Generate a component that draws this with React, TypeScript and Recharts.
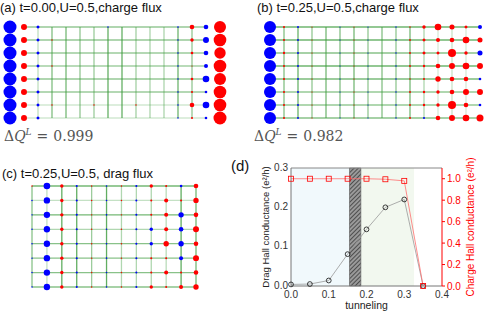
import React from 'react';
import {
  ScatterChart, Scatter, XAxis, YAxis, ZAxis, ReferenceLine, ReferenceArea,
  ComposedChart, Line,
} from 'recharts';

// ---------- Panel (a): t=0.00, U=0.5, charge flux (sign: + red, - blue) ----------
const A_ROWS: number[][] = [
  [-1, 0.21, -0.053, 0, 0, 0, 0, -0.012, 0, 0, 0, 0, -0.015, 0.125, -0.125, 0.85],
  [-1, 0.21, -0.053, 0.012, 0, 0, 0, 0, 0, 0, 0, 0, -0.012, 0.068, -0.21, 0.94],
  [-1, 0.21, -0.053, 0, 0, 0, 0, 0, 0, 0, 0, 0, -0.012, 0.04, -0.125, 0.77],
  [-1, 0.21, -0.053, 0.012, 0, 0, 0, 0, 0, 0, 0, 0, -0.012, 0.006, -0.095, 0.94],
  [-1, 0.21, -0.053, 0, 0, 0, 0, 0, 0, 0, 0, 0, -0.012, 0.04, -0.26, 0.85],
  [-1, 0.21, -0.053, 0, 0, 0, 0, 0, 0, 0, 0, 0, -0.012, 0.024, -0.04, 0.94],
  [-1, 0.21, -0.053, 0.012, 0, 0, 0.012, 0, 0, 0.012, 0, 0, -0.012, 0.125, -0.26, 0.94],
  [-1, 0.21, -0.053, 0, 0, 0, 0, 0, 0, 0, 0, 0, -0.012, 0.024, -0.04, 1],
];
const A_H_BONDS = [0.8, 0.8, 0.75, 0.7, 0.8, 0.75, 0.35, 0.35];
const A_V_COLS = [2, 3, 4, 5, 6, 7, 8, 9, 10, 11, 12, 13];
const A_V_BONDS = [0.35, 0.7, 0.75, 0.6, 0.55, 0.85, 0.85, 0.5, 0.45, 0.45, 0.8, 0.6];

// ---------- Panel (b): t=0.25, U=0.5, charge flux ----------
const B_ROWS: number[][] = [
  [-0.85, 0.024, -0.02, 0.008, 0, -0.008, 0.008, -0.008, 0, -0.01, 0.012, 0.068, 0.26, 0.15, 0.053, -0.095],
  [-0.85, 0.024, -0.02, 0.008, 0, -0.008, 0.008, -0.008, 0, -0.01, 0.02, 0.053, 0.095, 0.125, 0.26, 0.15],
  [-0.85, 0.03, -0.02, 0.008, 0, -0.008, 0.008, -0.008, 0, -0.01, 0.02, 0.053, 0.053, 0.38, 0.068, -0.15],
  [-0.85, 0.024, -0.02, 0.008, 0, -0.008, 0.008, -0.008, 0, -0.01, 0.02, 0.034, 0.125, 0.21, 0.26, 0.21],
  [-0.85, 0.024, -0.02, 0.008, 0, -0.008, 0.008, -0.008, 0, -0.01, 0.012, 0.024, 0.17, 0.125, 0.125, -0.04],
  [-0.85, 0.024, -0.02, 0.008, 0, -0.008, 0.008, -0.008, 0, -0.01, 0.02, 0.034, 0.068, 0.125, 0.21, 0.21],
  [-0.85, 0.024, -0.02, 0.008, 0, -0.008, 0.008, -0.008, 0, -0.01, 0.02, 0.034, 0.068, 0.38, 0.125, -0.04],
  [-0.85, 0.024, -0.02, 0.008, 0, -0.008, 0.008, -0.008, 0, -0.01, 0.02, -0.024, 0.125, 0.21, 0.26, 0.29],
];
const B_H_BONDS = [0.55, 0.55, 0.45, 0.55, 0.5, 0.4, 0.4, 0.45];
const B_V_COLS = [1, 2, 3, 4, 5, 6, 7, 8, 9, 10, 11, 12, 13, 14];
const B_V_BONDS = [0.45, 0.55, 0.4, 0.5, 0.45, 0.5, 0.4, 0.45, 0.4, 0.5, 0.3, 0.15, 0.2, 0.15];

// ---------- Panel (c): t=0.25, U=0.5, drag flux ----------
const C_ROWS: number[][] = [
  [0.012, -0.26, 0.068, -0.024, 0.012, -0.015, 0.012, -0.024, 0.068, 0.024, -0.04, 0.125],
  [-0.012, -0.24, 0.068, -0.024, 0.012, -0.015, 0.012, -0.024, 0.024, 0.095, 0.024, 0.17],
  [-0.012, -0.24, 0.068, -0.024, 0.012, -0.015, 0.012, -0.024, 0.024, 0.095, -0.17, 0.125],
  [-0.012, -0.24, 0.068, -0.024, 0.012, -0.015, 0.012, -0.024, -0.068, 0.095, -0.125, 0.21],
  [-0.012, -0.24, 0.068, -0.024, 0.012, -0.015, 0.012, -0.024, -0.068, 0.17, -0.17, 0.125],
  [-0.012, -0.24, 0.068, -0.024, 0.012, -0.015, 0.012, -0.024, 0.024, 0.024, -0.095, 0.21],
  [-0.012, -0.24, 0.068, -0.024, 0.012, -0.015, 0.012, -0.024, 0.024, 0.095, 0.024, 0.125],
  [-0.012, -0.24, 0.068, -0.024, 0.012, -0.015, 0.012, -0.024, 0.068, 0.024, 0.095, 0.17],
];
const C_H_BONDS = [0.7, 0.3, 0.7, 0.4, 0.6, 0.6, 0.6, 0.6];
const C_V_COLS = [0, 1, 2, 3, 4, 5, 6, 7, 8, 9, 10, 11];
const C_V_BONDS = [0.6, 0.3, 0.8, 0.8, 0.5, 0.8, 0.4, 0.4, 0.4, 0.35, 0.8, 0.7];

// ---------- Panel (d) ----------
const TUNNELING = [0, 0.05, 0.1, 0.15, 0.2, 0.25, 0.3, 0.35];
const DRAG_HALL = [0.004, 0.005, 0.014, 0.081, 0.144, 0.2, 0.22, 0.0];
const CHARGE_HALL = [1.0, 1.0, 1.0, 1.0, 1.0, 0.995, 0.98, 0.0];
const X_TICKS = [0, 0.1, 0.2, 0.3, 0.4];
const LEFT_TICKS = [0, 0.1, 0.2, 0.3];
const RIGHT_TICKS = [0, 0.2, 0.4, 0.6, 0.8, 1.0];
const PHASE_A = [0, 0.155];
const PHASE_MIXED = [0.155, 0.185];
const PHASE_B = [0.185, 0.326];

const GREEN = '#3a9a3a';
const RED = '#ff0000';
const BLUE = '#0000ff';

function toPoints(rows: number[][], sign: number) {
  const pts: { x: number; y: number; m: number }[] = [];
  rows.forEach((row, r) =>
    row.forEach((v, c) => {
      if (v * sign > 0) pts.push({ x: c, y: r, m: Math.abs(v) });
    })
  );
  return pts;
}

function Lattice(props: any) {
  const { rows, left, top, width, height, margin, hBonds, hFrom, hTo, vCols, vBonds, lineWidth } = props;
  const nCols = rows[0].length;
  const red = toPoints(rows, 1);
  const blue = toPoints(rows, -1);
  return (
    <div style={{ position: 'absolute', left, top }}>
      <ScatterChart width={width} height={height} margin={margin}>
        <XAxis type="number" dataKey="x" domain={[0, nCols - 1]} hide />
        <YAxis type="number" dataKey="y" domain={[0, rows.length - 1]} reversed hide />
        <ZAxis type="number" dataKey="m" domain={[0, 1]} range={[0, 133]} />
        {vCols.map((c: number, i: number) => (
          <ReferenceLine key={'v' + i} x={c} stroke={GREEN} strokeOpacity={vBonds[i]} strokeWidth={lineWidth} />
        ))}
        {hBonds.map((o: number, r: number) => (
          <ReferenceLine
            key={'h' + r}
            segment={[{ x: hFrom, y: r }, { x: hTo, y: r }]}
            stroke={GREEN}
            strokeOpacity={o}
            strokeWidth={lineWidth}
          />
        ))}
        <Scatter data={blue} fill={BLUE} isAnimationActive={false} />
        <Scatter data={red} fill={RED} isAnimationActive={false} />
      </ScatterChart>
    </div>
  );
}

const SquareDot = (props: any) => {
  const { cx, cy, index } = props;
  return (
    <rect key={'sq' + index} x={cx - 2.5} y={cy - 2.5} width={5} height={5} fill="none" stroke={RED} strokeWidth={0.8} />
  );
};
const CircleDot = (props: any) => {
  const { cx, cy, index } = props;
  return <circle key={'c' + index} cx={cx} cy={cy} r={2.4} fill="none" stroke="#111" strokeWidth={0.8} />;
};

const fmt1 = (v: number) => v.toFixed(1);

function PanelD() {
  const data = TUNNELING.map((t, i) => ({ t, drag: DRAG_HALL[i], charge: CHARGE_HALL[i] }));
  return (
    <div style={{ position: 'absolute', left: 240, top: 150 }}>
      <ComposedChart width={245} height={165} data={data} margin={{ top: 18, right: 3, left: 15, bottom: 0 }}>
        <XAxis
          type="number"
          dataKey="t"
          domain={[0, 0.4]}
          ticks={X_TICKS}
          tickFormatter={fmt1}
          height={29}
          stroke="#777"
          tickSize={0}
          tickMargin={5}
          tick={{ fontSize: 10, fill: '#333' }}
          label={{ value: 'tunneling', position: 'insideBottom', offset: 6, style: { fontSize: 10.5, fill: '#222' } }}
        />
        <YAxis
          yAxisId="left"
          type="number"
          domain={[0, 0.3]}
          ticks={LEFT_TICKS}
          tickFormatter={fmt1}
          width={36}
          stroke="#777"
          tickSize={0}
          tickMargin={3}
          tick={{ fontSize: 10, fill: '#333', dy: -1 }}
          label={{
            value: 'Drag Hall conductance (e²/h)',
            angle: -90,
            position: 'insideLeft',
            offset: 11,
            style: { textAnchor: 'middle', fontSize: 9.5, fill: '#222' },
          }}
        />
        <YAxis
          yAxisId="right"
          orientation="right"
          type="number"
          domain={[0, 1.1]}
          ticks={RIGHT_TICKS}
          tickFormatter={fmt1}
          width={40}
          stroke={RED}
          tickSize={3}
          tickMargin={2}
          tick={{ fontSize: 10, fill: RED }}
          label={{
            value: 'Charge Hall conductance (e²/h)',
            angle: -90,
            position: 'insideRight',
            offset: 12,
            style: { textAnchor: 'middle', fontSize: 10, fill: RED },
          }}
        />
        <ReferenceArea yAxisId="left" x1={PHASE_A[0]} x2={PHASE_A[1]} fill="#f1f9fc" fillOpacity={1} stroke="none" />
        <ReferenceArea yAxisId="left" x1={PHASE_B[0]} x2={PHASE_B[1]} fill="#f2f8ef" fillOpacity={1} stroke="none" />
        <ReferenceArea
          yAxisId="left"
          x1={PHASE_MIXED[0]}
          x2={PHASE_MIXED[1]}
          fill="url(#hatchD)"
          fillOpacity={1}
          stroke="#555"
          strokeWidth={0.6}
        />
        <ReferenceLine yAxisId="left" y={0.3} stroke="#888" strokeWidth={1} />
        <Line
          yAxisId="left"
          dataKey="drag"
          stroke="#999"
          strokeWidth={0.8}
          dot={CircleDot}
          isAnimationActive={false}
        />
        <Line
          yAxisId="right"
          dataKey="charge"
          stroke="#ff7070"
          strokeWidth={0.8}
          dot={SquareDot}
          isAnimationActive={false}
        />
      </ComposedChart>
    </div>
  );
}

const titleStyle: React.CSSProperties = {
  position: 'absolute',
  fontSize: 13,
  lineHeight: '14px',
  color: '#111',
  whiteSpace: 'nowrap',
};
const dqStyle: React.CSSProperties = {
  position: 'absolute',
  fontFamily: '"DejaVu Serif", "Liberation Serif", serif',
  fontSize: 14,
  lineHeight: '16px',
  color: '#555',
  whiteSpace: 'nowrap',
};

function DeltaQ({ left, top, value }: { left: number; top: number; value: string }) {
  return (
    <div style={{ ...dqStyle, left, top }}>
      Δ<i>Q</i>
      <span style={{ fontSize: 9, fontStyle: 'italic', position: 'relative', top: -6 }}>L</span>
      <span style={{ marginLeft: 5, marginRight: 5 }}>=</span>
      {value}
    </div>
  );
}

export default function App() {
  return (
    <div
      style={{
        position: 'absolute',
        left: 0,
        top: 0,
        width: 485,
        height: 315,
        background: '#fff',
        fontFamily: '"Liberation Sans", Arial, sans-serif',
        overflow: 'hidden',
      }}
    >
      <svg width={0} height={0} style={{ position: 'absolute' }}>
        <defs>
          <pattern id="hatchD" width={3} height={3} patternUnits="userSpaceOnUse" patternTransform="rotate(45)">
            <rect width={3} height={3} fill="#9a9a9a" />
            <line x1={0} y1={0} x2={0} y2={3} stroke="#3a3a3a" strokeWidth={1.6} />
          </pattern>
        </defs>
      </svg>

      <Lattice
        rows={A_ROWS}
        left={0}
        top={0}
        width={240}
        height={140}
        margin={{ top: 27, right: 20, bottom: 22, left: 10 }}
        hBonds={A_H_BONDS}
        hFrom={1}
        hTo={14}
        vCols={A_V_COLS}
        vBonds={A_V_BONDS}
        lineWidth={1.2}
      />
      <Lattice
        rows={B_ROWS}
        left={240}
        top={0}
        width={245}
        height={140}
        margin={{ top: 27, right: 5, bottom: 22, left: 30 }}
        hBonds={B_H_BONDS}
        hFrom={0}
        hTo={15}
        vCols={B_V_COLS}
        vBonds={B_V_BONDS}
        lineWidth={1.8}
      />
      <Lattice
        rows={C_ROWS}
        left={0}
        top={150}
        width={240}
        height={165}
        margin={{ top: 36, right: 44, bottom: 28, left: 32 }}
        hBonds={C_H_BONDS}
        hFrom={0}
        hTo={11}
        vCols={C_V_COLS}
        vBonds={C_V_BONDS}
        lineWidth={1.3}
      />
      <PanelD />

      <div style={{ ...titleStyle, left: 0, top: 1 }}>(a) t=0.00,U=0.5,charge flux</div>
      <div style={{ ...titleStyle, left: 257, top: 1 }}>(b) t=0.25,U=0.5,charge flux</div>
      <div style={{ ...titleStyle, left: 2, top: 167 }}>(c) t=0.25,U=0.5, drag flux</div>
      <div style={{ ...titleStyle, left: 231, top: 157, fontSize: 15, lineHeight: '17px' }}>(d)</div>

      <DeltaQ left={4} top={128} value="0.999" />
      <DeltaQ left={254} top={128} value="0.982" />
    </div>
  );
}
